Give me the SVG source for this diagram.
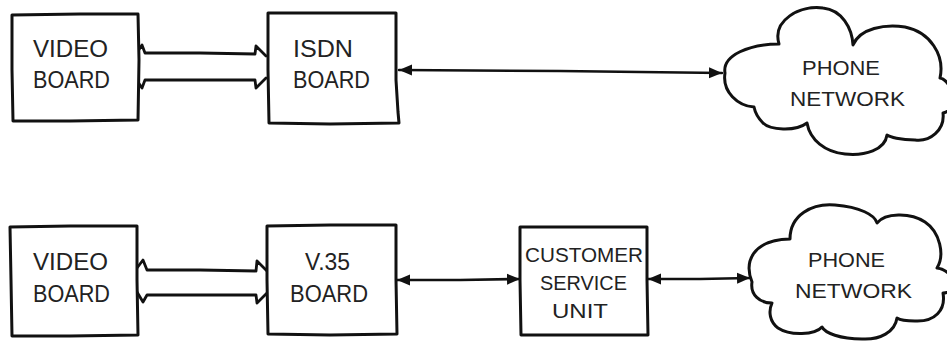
<svg xmlns="http://www.w3.org/2000/svg" width="947" height="343" viewBox="0 0 947 343">
<style>
.box{fill:#fff;stroke:#111;stroke-width:3;stroke-linejoin:round;stroke-linecap:round}
.cloud{fill:#fff;stroke:#111;stroke-width:3;stroke-linejoin:round}
.line{fill:none;stroke:#111;stroke-width:2.6;stroke-linecap:round;stroke-linejoin:round}
.bus{fill:none;stroke:#111;stroke-width:2.8;stroke-linecap:round;stroke-linejoin:round}
.t{font-family:"Liberation Sans",Arial,sans-serif;font-size:23px;fill:#222}
.s{font-family:"Liberation Sans",Arial,sans-serif;font-size:21px;fill:#222}
</style>
<defs>
<marker id="ah" markerUnits="userSpaceOnUse" markerWidth="14" markerHeight="12" viewBox="0 0 14 12" refX="13" refY="6" orient="auto-start-reverse">
<path d="M0,0.5 L13,6 L0,11.5 Z" fill="#111"/>
</marker>
</defs>
<rect width="947" height="343" fill="#fff"/>

<g id="connectors">
<path class="bus" d="M138,51 L142,45 L145,53 L200,53 L255,54 L256,46 L266,56"/>
<path class="bus" d="M138,82 L142,88 L145,80 L200,80 L255,80 L256,88 L266,78"/>
<path class="line" d="M399,70 L560,71 L640,72 L722,73" marker-start="url(#ah)" marker-end="url(#ah)"/>
<path class="bus" d="M137,268 L143,260 L147,270 L200,270 L256,271 L257,261 L267,271"/>
<path class="bus" d="M137,292 L143,302 L147,295 L200,295 L256,295 L257,303 L267,293"/>
<path class="line" d="M397,280 L460,280 L520,279" marker-start="url(#ah)" marker-end="url(#ah)"/>
<path class="line" d="M648,279 L700,279 L750,278" marker-start="url(#ah)" marker-end="url(#ah)"/>
</g>

<g id="video-board-1">
<path class="box" d="M12,15 L80,14 L138,14 L139,60 L138,120 L70,121 L13,121 L12,70 Z"/>
<text class="t" x="33" y="57" textLength="75" lengthAdjust="spacingAndGlyphs">VIDEO</text>
<text class="t" x="33" y="88" textLength="77" lengthAdjust="spacingAndGlyphs">BOARD</text>
</g>

<g id="isdn-board">
<path class="box" d="M268,13 L330,13 L396,13 L396,80 L398,112 L399,123 L330,124 L269,123 L268,70 Z"/>
<text class="t" x="293" y="57" textLength="60" lengthAdjust="spacingAndGlyphs">ISDN</text>
<text class="t" x="293" y="88" textLength="77" lengthAdjust="spacingAndGlyphs">BOARD</text>
</g>

<g id="phone-network-1">
<path class="cloud" d="M725,73 C722,55 750,44 779,44 C772,20 800,5 823,8 C842,10 852,28 853,45 C860,28 885,24 905,27 C930,32 945,55 940,78 C952,80 960,110 943,113 C945,130 930,142 915,140 C900,140 890,137 887,135 C885,150 865,156 845,154 C825,152 810,140 807,123 C795,132 770,130 763,123 C758,118 755,112 754,107 C738,106 722,92 725,73 Z"/>
<text class="s" x="802" y="75" textLength="78" lengthAdjust="spacingAndGlyphs">PHONE</text>
<text class="s" x="790" y="106" textLength="115" lengthAdjust="spacingAndGlyphs">NETWORK</text>
</g>

<g id="video-board-2">
<path class="box" d="M10,227 L70,226 L137,226 L137,280 L138,335 L70,336 L12,336 L11,280 Z"/>
<text class="t" x="33" y="270" textLength="75" lengthAdjust="spacingAndGlyphs">VIDEO</text>
<text class="t" x="33" y="302" textLength="77" lengthAdjust="spacingAndGlyphs">BOARD</text>
</g>

<g id="v35-board">
<path class="box" d="M267,226 L330,225 L396,225 L396,280 L397,334 L330,335 L268,334 L267,280 Z"/>
<text class="t" x="305" y="270" textLength="45" lengthAdjust="spacingAndGlyphs">V.35</text>
<text class="t" x="290" y="302" textLength="78" lengthAdjust="spacingAndGlyphs">BOARD</text>
</g>

<g id="customer-service-unit">
<path class="box" d="M520,227 L585,227 L647,227 L647,280 L648,335 L585,335 L521,335 L520,280 Z"/>
<text class="s" x="525" y="262" textLength="118" lengthAdjust="spacingAndGlyphs">CUSTOMER</text>
<text class="s" x="540" y="290" textLength="87" lengthAdjust="spacingAndGlyphs">SERVICE</text>
<text class="s" x="552" y="318" textLength="56" lengthAdjust="spacingAndGlyphs">UNIT</text>
</g>

<g id="phone-network-2">
<path class="cloud" d="M752,282 C744,262 752,240 790,239 C790,215 812,203 835,205 C860,207 875,215 877,223 C885,213 910,212 925,222 C940,232 945,255 937,268 C955,270 958,293 943,293 C946,310 935,322 915,321 C905,321 900,320 897,318 C895,332 880,340 862,339 C840,339 825,333 822,327 C815,335 790,336 778,328 C770,322 768,312 772,303 C760,303 750,295 752,282 Z"/>
<text class="s" x="808" y="267" textLength="77" lengthAdjust="spacingAndGlyphs">PHONE</text>
<text class="s" x="795" y="298" textLength="117" lengthAdjust="spacingAndGlyphs">NETWORK</text>
</g>
</svg>
